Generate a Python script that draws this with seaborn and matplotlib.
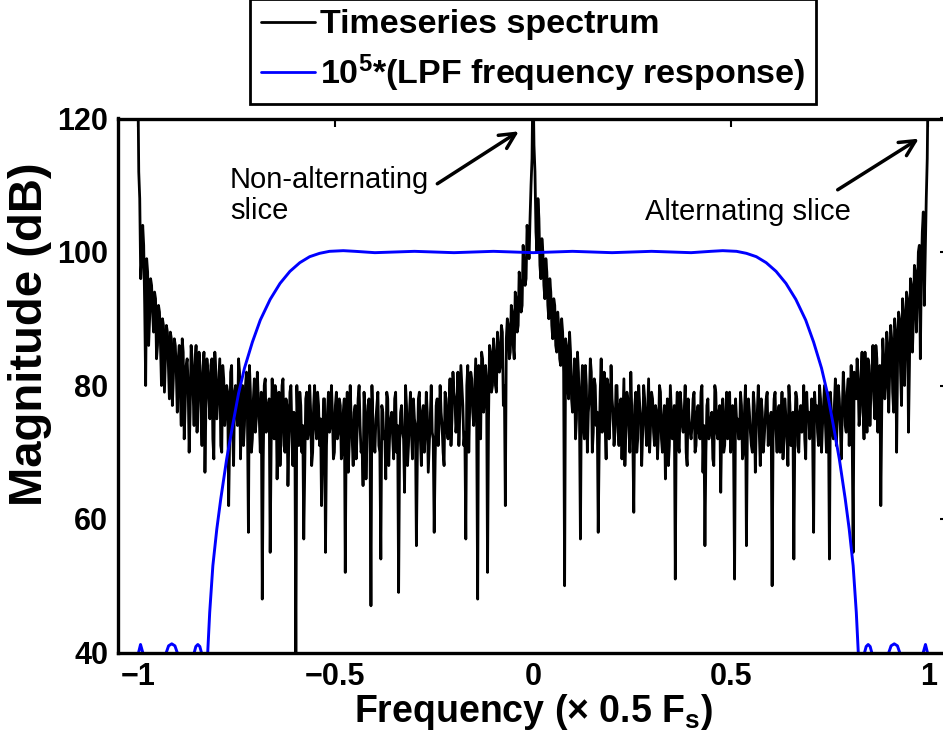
import numpy as np
import pandas as pd
import matplotlib
matplotlib.use("Agg")
import matplotlib.pyplot as plt
import seaborn as sns

# ---- data ----
# timeseries spectrum (dB) on the grid -1, -0.995, ..., 1 (step 0.005)
spectrum_db = [
    128, 108, 99, 101, 80, 97, 90, 95, 88, 93, 86, 91, 80, 89, 84, 88, 78, 87, 81, 86, 76,
    86, 74, 85, 77, 84, 70, 86, 79, 83, 73, 85, 76, 82, 67, 84, 78, 83, 72, 85, 75,
    81, 71, 83, 74, 80, 62, 82, 73, 79, 76, 84, 69, 80, 74, 82, 58, 79, 72, 81, 75,
    78, 70, 48, 80, 73, 77, 55, 81, 72, 79, 74, 68, 80, 71, 78, 65, 79, 73, 76, 38,
    74, 79, 70, 57, 78, 72, 80, 68, 77, 74, 79, 71, 62, 78, 55, 76, 73, 80, 69, 77,
    72, 78, 69, 76, 52, 79, 71, 75, 68, 77, 73, 80, 70, 65, 76, 72, 78, 47, 74, 70,
    77, 71, 54, 76, 73, 79, 68, 75, 72, 78, 70, 49, 76, 73, 64, 77, 71, 79, 69, 75,
    56, 78, 72, 76, 70, 79, 67, 75, 73, 58, 77, 71, 80, 74, 68, 78, 72, 81, 75, 79,
    73, 82, 76, 80, 71, 57, 83, 77, 81, 74, 84, 48, 80, 85, 76, 83, 52, 86, 79, 87,
    80, 88, 82, 89, 77, 62, 90, 84, 92, 86, 94, 88, 97, 91, 101, 95, 104, 99, 110, 127,
    112, 100, 105, 96, 100, 93, 97, 90, 94, 87, 92, 85, 89, 83, 88, 50, 86, 78, 85, 76,
    84, 75, 82, 57, 83, 72, 80, 76, 84, 70, 81, 74, 58, 79, 73, 82, 69, 80, 75, 78,
    71, 80, 74, 77, 69, 81, 73, 78, 70, 76, 61, 79, 72, 77, 68, 80, 74, 76, 70, 79,
    73, 77, 69, 80, 72, 75, 66, 78, 71, 76, 74, 51, 79, 70, 77, 73, 80, 68, 75, 72,
    78, 70, 76, 73, 79, 67, 56, 77, 72, 75, 69, 80, 73, 76, 64, 78, 71, 79, 74, 70,
    77, 51, 75, 72, 79, 69, 76, 56, 78, 73, 70, 77, 74, 80, 68, 76, 72, 78, 71, 75,
    50, 78, 73, 76, 70, 79, 72, 75, 68, 77, 74, 54, 79, 71, 76, 73, 80, 69, 75, 72,
    78, 58, 76, 73, 80, 70, 77, 74, 79, 54, 76, 72, 81, 75, 78, 69, 82, 74, 79, 71,
    83, 55, 80, 84, 74, 82, 77, 85, 73, 83, 79, 86, 75, 84, 80, 62, 87, 78, 88, 76,
    89, 79, 90, 70, 91, 82, 93, 80, 94, 73, 96, 85, 98, 88, 100, 84, 103, 92, 108, 128,
]
# spectrum (dB) at the in-between frequencies -0.9975, -0.9925, ..., 0.9975
spectrum_db_mid = [
    112, 96, 104, 92, 99, 86, 96, 91, 94, 84, 92, 86, 90, 79, 89, 83, 88, 77, 87, 82,
    84, 79, 87, 72, 83, 80, 76, 84, 74, 86, 78, 83, 71, 85, 77, 82, 75, 84, 69, 82,
    78, 84, 70, 81, 76, 79, 72, 83, 68, 80, 74, 82, 77, 71, 80, 75, 83, 70, 78, 73,
    82, 75, 79, 69, 81, 74, 78, 71, 76, 80, 66, 79, 73, 81, 70, 77, 72, 80, 68, 74,
    80, 71, 77, 74, 68, 79, 73, 76, 70, 80, 72, 77, 75, 69, 78, 71, 79, 74, 76, 70,
    79, 73, 77, 70, 78, 74, 67, 80, 72, 76, 69, 78, 74, 71, 79, 66, 77, 73, 80, 72,
    75, 79, 70, 77, 72, 66, 78, 73, 76, 69, 79, 74, 71, 77, 72, 80, 68, 76, 73, 78,
    74, 70, 79, 68, 77, 73, 76, 71, 80, 72, 69, 78, 74, 76, 70, 79, 73, 77, 71, 82,
    78, 75, 71, 83, 77, 73, 80, 70, 82, 76, 79, 74, 83, 72, 84, 78, 81, 75, 85, 80,
    85, 79, 86, 83, 88, 80, 87, 89, 85, 91, 84, 93, 89, 95, 92, 98, 96, 102, 105, 114,
    116, 103, 108, 98, 102, 95, 99, 92, 96, 89, 93, 86, 91, 84, 90, 82, 87, 80, 88, 78,
    80, 72, 85, 76, 79, 74, 83, 70, 78, 82, 73, 80, 76, 71, 84, 77, 74, 81, 72, 83,
    76, 73, 80, 71, 78, 75, 68, 79, 74, 82, 72, 77, 70, 80, 75, 73, 78, 71, 81, 74,
    78, 71, 76, 73, 79, 70, 77, 74, 68, 80, 72, 77, 75, 71, 79, 74, 76, 70, 78, 73,
    74, 79, 71, 77, 72, 80, 74, 70, 78, 73, 76, 68, 79, 72, 77, 74, 70, 76, 72, 79,
    73, 70, 78, 75, 72, 77, 70, 80, 74, 76, 71, 79, 67, 76, 73, 78, 70, 75, 79, 72,
    76, 73, 79, 70, 77, 74, 69, 78, 72, 80, 71, 76, 73, 78, 70, 77, 74, 72, 79, 76,
    74, 72, 79, 77, 71, 78, 74, 80, 70, 76, 79, 73, 77, 71, 80, 74, 76, 79, 73, 81,
    77, 73, 82, 78, 81, 76, 85, 72, 80, 84, 74, 82, 78, 86, 73, 83, 77, 84, 80, 86,
    82, 87, 76, 88, 84, 90, 77, 91, 86, 93, 83, 95, 90, 97, 93, 101, 97, 106, 100, 114,
]

# 10^5 * LPF frequency response (dB)
lpf_freq = [
    -1.05, -1.01, -1.0, -0.993, -0.985, -0.975, -0.94, -0.929, -0.922, -0.914, -0.906,
    -0.899, -0.888, -0.866, -0.858, -0.853, -0.848, -0.843, -0.838, -0.831, -0.823,
    -0.818, -0.81, -0.80, -0.79, -0.775, -0.76, -0.745, -0.73, -0.71, -0.69, -0.665,
    -0.64, -0.615, -0.59, -0.565, -0.54, -0.515, -0.48, -0.45, -0.40, -0.35, -0.30,
    -0.25, -0.20, -0.15, -0.10, -0.05, 0.0,
    0.05, 0.10, 0.15, 0.20, 0.25, 0.30, 0.35, 0.40, 0.45, 0.48, 0.515, 0.54, 0.565,
    0.59, 0.615, 0.64, 0.665, 0.69, 0.71, 0.73, 0.745, 0.76, 0.775, 0.79, 0.80, 0.81,
    0.818, 0.823, 0.831, 0.838, 0.843, 0.848, 0.853, 0.858, 0.866, 0.888, 0.899, 0.906,
    0.914, 0.922, 0.929, 0.94, 0.975, 0.985, 0.993, 1.0, 1.01, 1.05,
]
lpf_db = [
    30, 30, 39.5, 41.2, 39.5, 30, 30, 39.8, 41.0, 41.3, 41.0,
    39.8, 30, 30, 39.8, 40.9, 41.2, 40.9, 39.8, 33, 40,
    46, 53, 58.5, 63, 69, 74, 78.8, 82.6, 86.5, 89.8, 92.9,
    95.3, 97.1, 98.4, 99.3, 99.8, 100.1, 100.2, 100.1, 99.9, 100.0, 100.1,
    100.0, 99.9, 100.0, 100.1, 100.0, 99.9,
    100.0, 100.1, 100.0, 99.9, 100.0, 100.1, 100.0, 99.9, 100.1, 100.2, 100.1, 99.8, 99.3,
    98.4, 97.1, 95.3, 92.9, 89.8, 86.5, 82.6, 78.8, 74, 69, 63, 58.5, 53,
    46, 40, 33, 39.8, 40.9, 41.2, 40.9, 39.8, 30, 30, 39.8, 41.0,
    41.3, 41.0, 39.8, 30, 30, 39.5, 41.2, 39.5, 30, 30,
]

x_ticks = [-1, -0.5, 0, 0.5, 1]
x_ticklabels = ["\u22121", "\u22120.5", "0", "0.5", "1"]
y_ticks = [40, 60, 80, 100, 120]

# merge the two spectrum lists in frequency order
spec_vals = []
for k in range(len(spectrum_db_mid)):
    spec_vals.append(spectrum_db[k])
    spec_vals.append(spectrum_db_mid[k])
spec_vals.append(spectrum_db[-1])
spec_freq = np.linspace(-1, 1, len(spec_vals))

# ---- style ----
sns.set_style("white")
plt.rcParams['font.family'] = ['Liberation Sans', 'DejaVu Sans']
plt.rcParams['mathtext.fontset'] = 'custom'
plt.rcParams['mathtext.bf'] = 'Liberation Sans:bold'
plt.rcParams['mathtext.rm'] = 'Liberation Sans:bold'
plt.rcParams['mathtext.it'] = 'Liberation Sans:bold'
for key in ["text.color", "axes.labelcolor", "xtick.color", "ytick.color", "axes.edgecolor"]:
    plt.rcParams[key] = "black"

W, H = 943, 736
fig = plt.figure(figsize=(W / 100, H / 100), dpi=100)
ax_l, ax_r, ax_t, ax_b = 118, 948, 118.5, 652.5
ax = fig.add_axes([ax_l / W, 1 - ax_b / H, (ax_r - ax_l) / W, (ax_b - ax_t) / H])

df_spec = pd.DataFrame({"freq": spec_freq, "mag": spec_vals})
df_lpf = pd.DataFrame({"freq": lpf_freq, "mag": lpf_db})

sns.lineplot(data=df_spec, x="freq", y="mag", ax=ax, color="black", lw=2.0,
             estimator=None, sort=False, label="Timeseries spectrum")
sns.lineplot(data=df_lpf, x="freq", y="mag", ax=ax, color=(0, 0, 1), lw=2.1,
             estimator=None, sort=False,
             label=r"10$^{\mathbf{5}}$*(LPF frequency response)")

ax.set_xlim(-1.05, 1.05)
ax.set_ylim(40, 120)
ax.set_xticks(x_ticks)
ax.set_xticklabels(x_ticklabels)
ax.set_yticks(y_ticks)
ax.tick_params(direction="in", length=6, width=1.5, top=True, right=True,
               labelsize=22, pad=7, colors="black")
for lab in ax.get_xticklabels() + ax.get_yticklabels():
    lab.set_fontweight("bold")
for sp in ax.spines.values():
    sp.set_linewidth(2.4)
    sp.set_color("black")

ax.set_xlabel("Frequency (\u00d7 0.5 F$_{\\mathbf{s}}$)", fontsize=27, fontweight="bold",
              color="black")
ax.xaxis.set_label_coords(0.5, -0.074)
ax.set_ylabel("Magnitude (dB)", fontsize=34, fontweight="bold", color="black")
ax.yaxis.set_label_coords(-0.08, 0.597)

leg = ax.legend(loc="lower center", bbox_to_anchor=(0.5, 1.027), frameon=True,
                fancybox=False, edgecolor="black", framealpha=1,
                prop={"weight": "bold", "size": 24.5}, handlelength=1.6,
                handletextpad=0.15, borderpad=0.3, labelspacing=0.35,
                borderaxespad=0, labelcolor="black")
leg.get_frame().set_linewidth(2.0)
for ln in leg.get_lines():
    ln.set_linewidth(2.0)

# annotations
ax.text(-0.767, 108.5, "Non-alternating\nslice", fontsize=21, ha="left", va="center",
        linespacing=1.12, color="black")
ax.annotate("", xy=(-0.030, 118.3), xytext=(-0.248, 110.0),
            arrowprops=dict(arrowstyle="->", lw=2.5, color="black", mutation_scale=28))
ax.text(0.284, 106.0, "Alternating slice", fontsize=21, ha="left", va="center",
        color="black")
ax.annotate("", xy=(0.982, 117.2), xytext=(0.765, 109.1),
            arrowprops=dict(arrowstyle="->", lw=2.5, color="black", mutation_scale=28))

fig.savefig("out.png", dpi=100)
